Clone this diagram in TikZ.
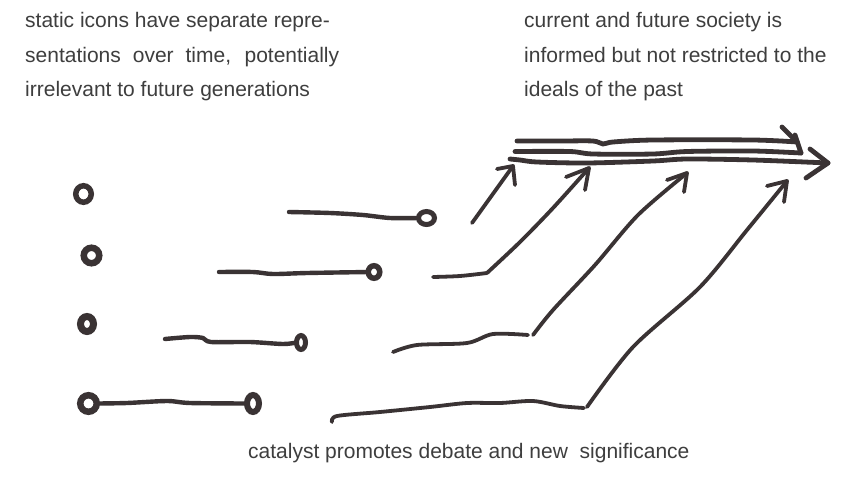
\documentclass[tikz,border=0pt]{standalone}
\usepackage{fontspec}
\setmainfont{Liberation Sans}
\usetikzlibrary{shapes.geometric}
\definecolor{inkc}{RGB}{58,51,52}
\definecolor{txtc}{RGB}{62,62,62}
\begin{document}
\begin{tikzpicture}[x=1pt,y=-1pt,
  pen/.style={draw=inkc, line width=4.4pt, line cap=round, line join=round},
  thinpen/.style={draw=inkc, line width=3.8pt, line cap=round, line join=round},
  ring/.style={ellipse, draw=inkc, inner sep=0pt, outer sep=0pt},
  lbl/.style={font=\fontsize{21}{25}\selectfont, text=txtc, inner sep=0pt, anchor=base west}]
\useasboundingbox (0,0) rectangle (852,491);
\fill[white] (0,0) rectangle (852,491);

% texts
\node[lbl] (l1) at (25,27.5) {static icons have separate repre-};
\node[lbl] (l2) at (25,62) {\makebox[314pt][s]{sentations over time, potentially}};
\node[lbl] (l3) at (25,96.5) {irrelevant to future generations};
\node[lbl] (r1) at (524,27.5) {current and future society is};
\node[lbl] (r2) at (524,62) {informed but not restricted to the};
\node[lbl] (r3) at (524,96.5) {ideals of the past};
\node[lbl] (b1) at (248,458) {catalyst promotes debate and new\ \ significance};

% left rings
\node[ring, line width=5.5pt, minimum width=15.5pt, minimum height=16.5pt] (c1) at (83.5,194) {};
\node[ring, line width=6.5pt, minimum width=15.5pt, minimum height=15.5pt] (c2) at (91.5,255.5) {};
\node[ring, line width=7pt, minimum width=13pt, minimum height=15pt] (c3) at (87,324) {};
\node[ring, line width=6.5pt, minimum width=16.5pt, minimum height=16.5pt] (c4) at (88.5,403.5) {};

% end rings
\node[ring, line width=5pt, minimum width=16pt, minimum height=13pt] (e1) at (426.5,218) {};
\node[ring, line width=5.5pt, minimum width=11.5pt, minimum height=12.5pt] (e2) at (374,272) {};
\node[ring, line width=5pt, minimum width=9pt, minimum height=14pt] (e3) at (301,342.5) {};
\node[ring, line width=6pt, minimum width=12pt, minimum height=17pt] (e4) at (253,403.5) {};

% short lines to rings
\draw[pen] plot[smooth, tension=0.5] coordinates {(289,212) (330,213) (363,215) (390,218) (e1.west)};
\draw[pen] plot[smooth, tension=0.5] coordinates {(219,272) (253,272) (273,274) (307,273) (e2.west)};
\draw[pen] plot[smooth, tension=0.5] coordinates {(165,339) (190,337) (203,338) (211,342) (250,342) (283,344) (e3.west)};
\draw[pen] plot[smooth, tension=0.5] coordinates {(c4.east) (127,403) (167,401) (190,403) (e4.west)};

% long horizontal arrows
\coordinate (ta) at (797,142);
\coordinate (tb) at (801,153);
\coordinate (tc) at (828,163);
\draw[pen, line width=4.8pt] plot[smooth, tension=0.5] coordinates {(517,141) (560,141) (593,141) (603,144) (613,142) (653,140) (753,140) (ta)};
\draw[pen, line width=4.8pt] (ta) -- (782,127);
\draw[pen, line width=4.8pt] plot[smooth, tension=0.5] coordinates {(515,151.5) (570,151.5) (593,154) (653,154) (687,151.5) (753,151) (tb)};
\draw[pen, line width=4.8pt] (tb) -- (795,135);
\draw[pen, line width=4.8pt] plot[smooth, tension=0.5] coordinates {(510,159) (520,160) (537,162) (587,163) (653,161) (687,159) (753,160) (tc)};
\draw[pen, line width=4.8pt] (810,149) -- (tc) -- (806,178);

% diagonal arrows
\coordinate (t1) at (513,166);
\coordinate (t2) at (589,168);
\coordinate (t3) at (687,173);
\coordinate (t4) at (787,181);
\draw[thinpen] (472,223) -- (t1);
\draw[thinpen] (497,169) -- (t1) -- (515,185);

\draw[thinpen] plot[smooth, tension=0.5] coordinates {(433,277) (460,276) (487,273)};
\draw[thinpen] plot[smooth, tension=0.5] coordinates {(487,273) (520,242) (553,208) (t2)};
\draw[thinpen] (566,177) -- (t2) -- (585,190);

\draw[thinpen] plot[smooth, tension=0.5] coordinates {(393,352) (417,345) (467,343) (493,334) (528,335)};
\draw[thinpen] plot[smooth, tension=0.5] coordinates {(533,335) (553,310) (595,265) (638,215) (t3)};
\draw[thinpen] (667,180) -- (t3) -- (684,192);

\draw[thinpen] plot[smooth, tension=0.5] coordinates {(332,422) (337,416) (380,412) (430,407) (467,403) (500,403) (533,401) (560,406) (584,408)};
\draw[thinpen] plot[smooth, tension=0.5] coordinates {(587,407) (633,347) (700,287) (747,230) (t4)};
\draw[thinpen] (767,186) -- (t4) -- (784,202);
\end{tikzpicture}
\end{document}
